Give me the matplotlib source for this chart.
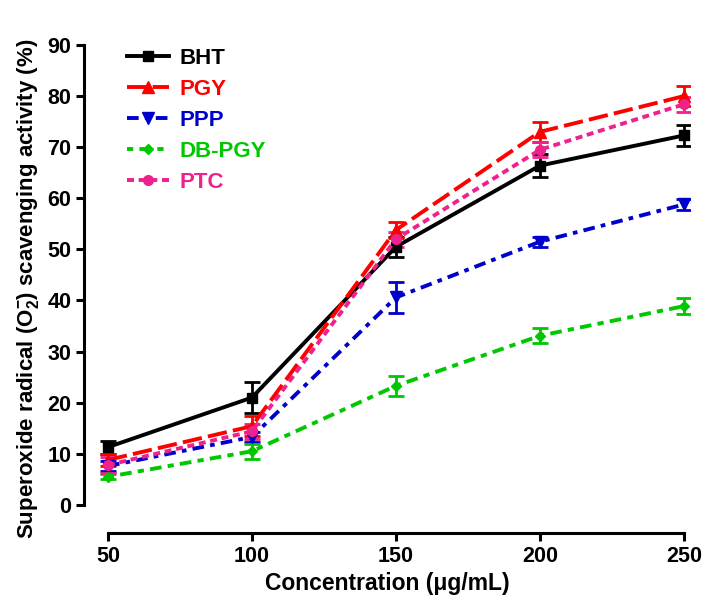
import numpy as np
import matplotlib
matplotlib.use('Agg')
import matplotlib.pyplot as plt
from matplotlib.lines import Line2D

plt.rcParams['font.family'] = ['Liberation Sans', 'DejaVu Sans']
plt.rcParams['font.weight'] = 'bold'
plt.rcParams['mathtext.fontset'] = 'custom'
plt.rcParams['mathtext.rm'] = 'Liberation Sans:bold'
plt.rcParams['mathtext.bf'] = 'Liberation Sans:bold'
plt.rcParams['mathtext.default'] = 'rm'

conc = [50, 100, 150, 200, 250]

names = ['BHT', 'PGY', 'PPP', 'DB-PGY', 'PTC']
bht = [11.3, 21.0, 50.5, 66.4, 72.3]
bht_err = [1.3, 3.0, 2.0, 2.3, 2.0]
pgy = [8.8, 15.4, 53.8, 73.0, 80.0]
pgy_err = [1.2, 2.0, 1.5, 2.0, 2.0]
ppp = [7.6, 13.3, 40.6, 51.5, 58.8]
ppp_err = [1.0, 1.0, 3.0, 1.0, 1.0]
dbpgy = [5.5, 10.5, 23.3, 33.1, 38.9]
dbpgy_err = [0.5, 1.5, 2.0, 1.5, 1.5]
ptc = [7.8, 14.4, 52.0, 69.5, 78.4]
ptc_err = [1.5, 1.5, 1.5, 1.5, 1.5]

series = [bht, pgy, ppp, dbpgy, ptc]
errs = [bht_err, pgy_err, ppp_err, dbpgy_err, ptc_err]
colors = ['#000000', '#ff0000', '#0000cc', '#00c800', '#f0208c']
styles = ['-', (0, (5, 1.6)), (0, (3, 1.6, 1.2, 1.6)), (0, (1.6, 1.6, 3, 1.6)), (0, (1.8, 1.2))]
markers = ['s', '^', 'v', 'D', 'o']
msizes = [7, 8, 8, 5, 7]

fig = plt.figure(figsize=(7.04, 6.04), dpi=100)
ax = fig.add_axes([84 / 704, 1 - 533 / 604, 606 / 704, 488 / 604])

handles = []
for y, e, c, ls, m, ms, n in zip(series, errs, colors, styles, markers, msizes, names):
    ax.errorbar(conc, y, yerr=e, color=c, ls=ls, lw=2.8, marker=m, ms=ms,
                capsize=6, capthick=2, elinewidth=2)
    handles.append(Line2D([], [], color=c, ls=ls, lw=2.8, marker=m, ms=ms, label=n))

ax.set_xlim(41.7, 252.1)
ax.set_ylim(-5.5, 90)
ax.set_xticks(conc)
ax.set_yticks(np.arange(0, 91, 10))
ax.spines['top'].set_visible(False)
ax.spines['right'].set_visible(False)
ax.spines['left'].set_bounds(0, 90)
ax.spines['bottom'].set_bounds(50, 250)
ax.spines['left'].set_linewidth(2.2)
ax.spines['bottom'].set_linewidth(2.2)
ax.tick_params(width=2.2, length=6, labelsize=15.5, pad=3)
for t in ax.get_xticklabels() + ax.get_yticklabels():
    t.set_fontweight('bold')

ax.set_xlabel('Concentration (\u03bcg/mL)', fontsize=16.5, fontweight='bold', labelpad=4)
ax.set_ylabel(r'Superoxide radical (O$_2^{-}$) scavenging activity (%)', fontsize=16,
              fontweight='bold', labelpad=5)

leg = ax.legend(handles=handles, loc='upper left', bbox_to_anchor=(0.038, 1.035),
                frameon=False, handlelength=1.9, handletextpad=0.45, labelspacing=0.45,
                prop={'weight': 'bold', 'size': 16})
for txt, c in zip(leg.get_texts(), colors):
    txt.set_color(c)

fig.savefig('out.png', dpi=100)
